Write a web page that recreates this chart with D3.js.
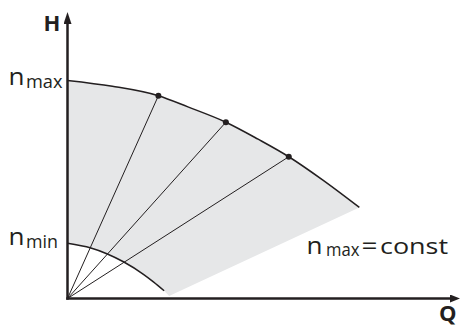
<!DOCTYPE html>
<html>
<head>
<meta charset="utf-8">
<script src="https://cdn.jsdelivr.net/npm/d3@7"></script>
<style>
  body { margin: 0; background: #fff; }
  text { font-family: "Open Sans", sans-serif; fill: #231f20; }
</style>
</head>
<body>
<div id="chart"></div>
<script>
// pump curve at n max (Q, H in % of axis length)
const maxQ = [0, 11.7, 23.7, 31.4, 41.3, 49.7, 57.7, 66.6, 76.1];
const maxH = [78.3, 76.2, 72.8, 68.8, 63.3, 57.2, 50.9, 42.5, 32.7];
// pump curve at n min
const minQ = [0, 6.1, 10.4, 14.7, 19.8, 22.4, 25.2];
const minH = [19.8, 18.1, 16.0, 13.1, 8.7, 6.0, 2.8];
// operating points on the n max curve
const opQ = [23.7, 41.3, 57.7];
const opH = [72.8, 63.3, 50.9];
// lower corner of the shaded field
const cornerQ = 26.5, cornerH = 0.9;

const width = 460, height = 325;

const svg = d3.select("#chart").append("svg")
    .attr("width", width)
    .attr("height", height);

const x = d3.scaleLinear().domain([0, 100]).range([67.5, 451]);
const y = d3.scaleLinear().domain([0, 100]).range([298.5, 20]);

const maxPts = maxQ.map((q, i) => [q, maxH[i]]);
const minPts = minQ.map((q, i) => [q, minH[i]]);

const line = d3.line()
    .x(d => x(d[0]))
    .y(d => y(d[1]))
    .curve(d3.curveMonotoneX);

// shaded working field
const field = line(maxPts)
    + "L" + x(cornerQ) + "," + y(cornerH)
    + line(minPts.slice().reverse()).replace(/^M/, "L")
    + "Z";

svg.append("path")
    .attr("d", field)
    .attr("fill", "#e6e7e8");

// rays from origin to operating points
svg.selectAll(".ray")
    .data(opQ)
    .enter().append("line")
    .attr("class", "ray")
    .attr("x1", x(0))
    .attr("y1", y(0))
    .attr("x2", d => x(d))
    .attr("y2", (d, i) => y(opH[i]))
    .attr("stroke", "#231f20")
    .attr("stroke-width", 1);

svg.append("path")
    .attr("d", line(maxPts))
    .attr("fill", "none")
    .attr("stroke", "#231f20")
    .attr("stroke-width", 1.5);

svg.append("path")
    .attr("d", line(minPts))
    .attr("fill", "none")
    .attr("stroke", "#231f20")
    .attr("stroke-width", 1.5);

svg.selectAll(".op")
    .data(opQ)
    .enter().append("circle")
    .attr("class", "op")
    .attr("cx", d => x(d))
    .attr("cy", (d, i) => y(opH[i]))
    .attr("r", 3)
    .attr("fill", "#231f20");

// arrowheads
const defs = svg.append("defs");
defs.append("marker")
    .attr("id", "arrowX")
    .attr("markerUnits", "userSpaceOnUse")
    .attr("viewBox", "0 0 10 8")
    .attr("markerWidth", 10)
    .attr("markerHeight", 8)
    .attr("refX", 1)
    .attr("refY", 4)
    .attr("orient", "auto")
    .append("path")
    .attr("d", "M0,0L10,4L0,8Z")
    .attr("fill", "#231f20");

defs.append("marker")
    .attr("id", "arrowY")
    .attr("markerUnits", "userSpaceOnUse")
    .attr("viewBox", "0 0 12 8")
    .attr("markerWidth", 12)
    .attr("markerHeight", 8)
    .attr("refX", 4)
    .attr("refY", 4)
    .attr("orient", "auto")
    .append("path")
    .attr("d", "M0,0L12,4L0,8Z")
    .attr("fill", "#231f20");

// axes without ticks
const xAxis = svg.append("g")
    .attr("transform", `translate(0,${y(0)})`)
    .call(d3.axisBottom(x).tickValues([]).tickSizeOuter(0));
xAxis.select(".domain")
    .attr("stroke", "#231f20")
    .attr("stroke-width", 2.5)
    .attr("d", `M${x(0) - 1.25},0H${x(100)}`)
    .attr("marker-end", "url(#arrowX)");

const yAxis = svg.append("g")
    .attr("transform", `translate(${x(0)},0)`)
    .call(d3.axisLeft(y).tickValues([]).tickSizeOuter(0));
yAxis.select(".domain")
    .attr("stroke", "#231f20")
    .attr("stroke-width", 2.5)
    .attr("d", `M0,${y(0) + 1.25}V${y(100)}`)
    .attr("marker-end", "url(#arrowY)");

// axis titles
svg.append("text")
    .attr("x", 43.5)
    .attr("y", 31)
    .attr("font-size", 22)
    .attr("font-weight", "bold")
    .text("H");

svg.append("text")
    .attr("x", 439)
    .attr("y", 320.5)
    .attr("font-size", 22)
    .attr("font-weight", "bold")
    .text("Q");

// labels: n with subscript
function label(xn, base, sub, subX, subWidth) {
    svg.append("text")
        .attr("x", xn)
        .attr("y", base)
        .attr("font-size", 23)
        .attr("textLength", 16)
        .attr("lengthAdjust", "spacingAndGlyphs")
        .text("n");
    svg.append("text")
        .attr("x", subX)
        .attr("y", base + 2.5)
        .attr("font-size", 18)
        .attr("textLength", subWidth)
        .attr("lengthAdjust", "spacingAndGlyphs")
        .text(sub);
}

label(8.5, 85, "max", 26, 36.5);
label(8.5, 245, "min", 26, 32);
label(306.5, 253.5, "max", 326, 33.5);

svg.append("text")
    .attr("x", 361.5)
    .attr("y", 253.5)
    .attr("font-size", 24)
    .attr("textLength", 16)
    .attr("lengthAdjust", "spacingAndGlyphs")
    .text("=");

svg.append("text")
    .attr("x", 380)
    .attr("y", 253.5)
    .attr("font-size", 22)
    .attr("textLength", 68)
    .attr("lengthAdjust", "spacingAndGlyphs")
    .text("const");
</script>
</body>
</html>
